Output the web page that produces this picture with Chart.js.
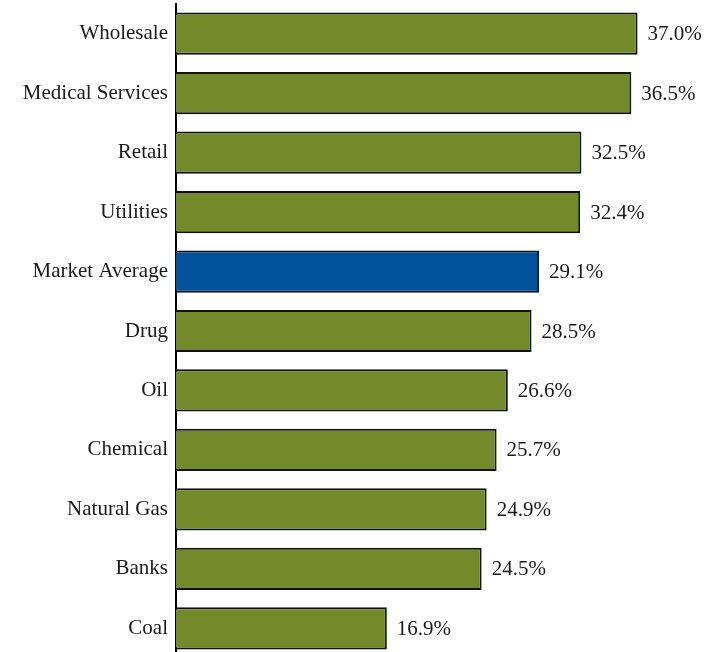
<!DOCTYPE html>
<html lang="en">
<head>
    <meta charset="UTF-8">
    <title>Industry Comparison</title>
    <script src="https://cdn.jsdelivr.net/npm/chart.js"></script>
    <style>
        html, body { margin: 0; padding: 0; overflow: hidden; background: #fff; }
        #wrap { position: relative; width: 718px; height: 658px; }
    </style>
</head>
<body>
    <div id="wrap"><canvas id="industryChart"></canvas></div>

    <script>
        const categories = ['Wholesale', 'Medical Services', 'Retail', 'Utilities', 'Market Average',
            'Drug', 'Oil', 'Chemical', 'Natural Gas', 'Banks', 'Coal'];
        const values = [37.0, 36.5, 32.5, 32.4, 29.1, 28.5, 26.6, 25.7, 24.9, 24.5, 16.9];

        const green = '#73892a';
        const blue = '#00539b';
        const serif = '"Liberation Serif", "DejaVu Serif", serif';

        // value text to the right of each bar
        const valueLabels = {
            id: 'valueLabels',
            afterDatasetsDraw(chart) {
                const ctx = chart.ctx;
                const meta = chart.getDatasetMeta(0);
                ctx.save();
                ctx.font = '21px ' + serif;
                ctx.fillStyle = '#1a1a1a';
                ctx.textAlign = 'left';
                ctx.textBaseline = 'middle';
                meta.data.forEach((bar, i) => {
                    ctx.fillText(values[i].toFixed(1) + '%', bar.x + 10, bar.y + 1);
                });
                ctx.restore();
            }
        };

        const ctx = document.getElementById('industryChart').getContext('2d');
        new Chart(ctx, {
            type: 'bar',
            data: {
                labels: categories,
                datasets: [{
                    data: values,
                    backgroundColor: categories.map(c => c === 'Market Average' ? blue : green),
                    borderColor: '#111',
                    borderWidth: 2,
                    borderSkipped: 'left',
                    barPercentage: 0.71,
                    categoryPercentage: 1.0
                }]
            },
            options: {
                indexAxis: 'y',
                responsive: true,
                maintainAspectRatio: false,
                animation: false,
                layout: { padding: { top: 4, right: 43, bottom: 0, left: 0 } },
                plugins: {
                    legend: { display: false },
                    tooltip: { enabled: false }
                },
                scales: {
                    x: {
                        display: false,
                        min: 0,
                        max: 40
                    },
                    y: {
                        afterFit(scale) {
                            scale.width = 176;
                            scale.paddingTop = 0;
                            scale.paddingBottom = 0;
                        },
                        grid: { display: false, drawTicks: false },
                        border: { display: true, color: '#000', width: 2 },
                        ticks: {
                            padding: 8,
                            color: '#1a1a1a',
                            font: { family: serif, size: 21 }
                        }
                    }
                }
            },
            plugins: [valueLabels]
        });
    </script>
</body>
</html>
